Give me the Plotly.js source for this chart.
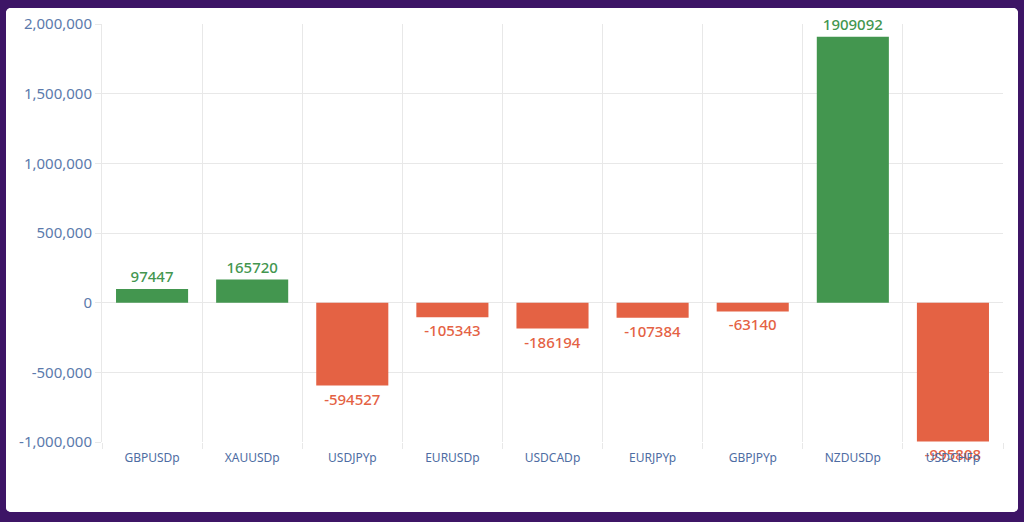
<!DOCTYPE html>
<html>
<head>
<meta charset="utf-8">
<script src="https://cdn.plot.ly/plotly-3.0.1.min.js"></script>
<style>
  html, body { margin: 0; padding: 0; }
  body { width: 1024px; height: 522px; background: #3d1566; position: relative; overflow: hidden; }
  #panel {
    position: absolute; left: 6px; top: 8px; width: 1012px; height: 504px;
    background: #ffffff; border-radius: 5px; overflow: hidden;
  }
  #chart { width: 1012px; height: 504px; }
</style>
</head>
<body>
<div id="panel"><div id="chart"></div></div>
<script>
// symbols and net result per symbol
const symbols = ["GBPUSDp", "XAUUSDp", "USDJPYp", "EURUSDp", "USDCADp", "EURJPYp", "GBPJPYp", "NZDUSDp", "USDCHFp"];
const profits = [97447, 165720, -594527, -105343, -186194, -107384, -63140, 1909092, -995808];

const yTickVals = [-1000000, -500000, 0, 500000, 1000000, 1500000, 2000000];
const yTickText = ["-1,000,000", "-500,000", "0", "500,000", "1,000,000", "1,500,000", "2,000,000"];

const GREEN = "#43964f";
const RED = "#e46244";

const colors = profits.map(v => v >= 0 ? GREEN : RED);

const barTrace = {
  type: "bar",
  x: symbols,
  y: profits,
  text: profits.map(v => String(v)),
  textposition: "outside",
  cliponaxis: false,
  textfont: { family: "Noto Sans, sans-serif", size: 15, color: colors, weight: 500 },
  marker: { color: colors, line: { width: 0 } },
  hoverinfo: "none"
};

const layout = {
  width: 1012,
  height: 504,
  margin: { l: 96, r: 15, t: 16, b: 70 },
  paper_bgcolor: "#ffffff",
  plot_bgcolor: "#ffffff",
  bargap: 0.28,
  showlegend: false,
  font: { family: "Noto Sans, sans-serif" },
  xaxis: {
    type: "category",
    tickson: "boundaries",
    showgrid: true,
    gridcolor: "#e8e8e8",
    ticks: "outside",
    ticklen: 6,
    tickcolor: "#e8e8e8",
    ticklabelstandoff: 7,
    showline: false,
    zeroline: false,
    tickfont: { size: 12, color: "#4e6da3" }
  },
  yaxis: {
    range: [-1000000, 2000000],
    tickvals: yTickVals,
    ticktext: yTickText,
    showgrid: true,
    gridcolor: "#e8e8e8",
    zeroline: true,
    zerolinecolor: "#e8e8e8",
    zerolinewidth: 1,
    ticks: "outside",
    ticklen: 6,
    tickcolor: "#e8e8e8",
    showline: true,
    linecolor: "#e8e8e8",
    tickfont: { size: 15, color: "#5b7aac" }
  }
};

Plotly.newPlot("chart", [barTrace], layout, {
  displayModeBar: false,
  staticPlot: true
});
</script>
</body>
</html>
